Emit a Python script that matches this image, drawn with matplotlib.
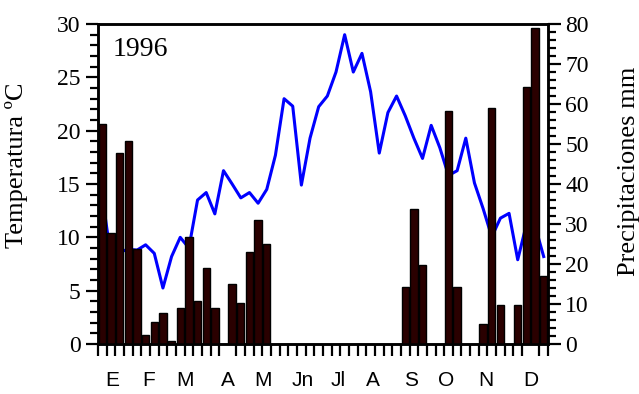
import matplotlib
matplotlib.use("Agg")
import matplotlib.pyplot as plt
import numpy as np
from matplotlib.ticker import MultipleLocator, FixedLocator

# weekly data for 1996
weeks = np.arange(52)
temperature = [13.8, 8.1, 8.6, 8.9, 8.8, 9.3, 8.5, 5.25, 8.2, 10.0,
               9.0, 13.5, 14.2, 12.2, 16.25, 15.0, 13.7, 14.2, 13.2, 14.5,
               17.7, 23.0, 22.3, 14.9, 19.3, 22.25, 23.25, 25.5, 29.0, 25.5,
               27.25, 23.65, 17.9, 21.7, 23.25, 21.4, 19.3, 17.4, 20.5, 18.4,
               15.8, 16.25, 19.3, 15.1, 12.7, 10.05, 11.8, 12.25, 7.9, 11.2,
               11.1, 8.2]
precipitation = [55, 27.7, 47.7, 50.8, 23.7, 2.25, 5.6, 7.7, 0.8, 8.9,
                 26.8, 10.8, 18.9, 8.9, 0, 14.9, 10.2, 22.9, 30.9, 24.9,
                 0, 0, 0, 0, 0, 0, 0, 0, 0, 0,
                 0, 0, 0, 0, 0, 14.2, 33.7, 19.75, 0, 0,
                 58.25, 14.2, 0, 0, 5.0, 58.9, 9.75, 0, 9.75, 64.3,
                 78.9, 17]
month_labels = ["E", "F", "M", "A", "M", "Jn", "Jl", "A", "S", "O", "N", "D"]
month_pos = [1.1, 5.4, 9.6, 14.5, 18.6, 23.2, 27.2, 31.3, 35.7, 39.7, 44.3, 49.5]

SERIF = "Liberation Serif"
SANS = "Liberation Sans"

fig = plt.figure(figsize=(6.39, 3.94), dpi=100)
ax = fig.add_axes([0.1534, 0.1269, 0.7042, 0.8121])
ax2 = ax.twinx()

ax.plot(weeks, temperature, color="#0000ff", linewidth=2.2, zorder=2)
ax2.bar(weeks, precipitation, width=0.85, color="#2a0000",
        edgecolor="black", linewidth=1.0)

ax.set_xlim(-0.5, 51.5)
ax.set_ylim(0, 30)
ax2.set_ylim(0, 80)

ax.yaxis.set_major_locator(MultipleLocator(5))
ax.yaxis.set_minor_locator(MultipleLocator(1))
ax2.yaxis.set_major_locator(MultipleLocator(10))
ax2.yaxis.set_minor_locator(MultipleLocator(2))

ax.xaxis.set_major_locator(FixedLocator(month_pos))
ax.set_xticklabels(month_labels, fontfamily=SANS, fontsize=15)
ax.xaxis.set_minor_locator(FixedLocator(np.arange(-0.5, 52, 1.0)))
ax.tick_params(axis="x", which="major", length=0, pad=19.5)
ax.tick_params(axis="x", which="minor", length=8.6, width=1.6, direction="out")

ax.tick_params(axis="y", which="major", length=9, width=1.6, labelsize=17)
ax.tick_params(axis="y", which="minor", length=5.5, width=1.6)
ax2.tick_params(axis="y", which="major", length=9, width=1.6, labelsize=17)
ax2.tick_params(axis="y", which="minor", length=5.5, width=1.6)
for lab in ax.get_yticklabels() + ax2.get_yticklabels():
    lab.set_fontfamily(SERIF)

for a in (ax, ax2):
    for sp in a.spines.values():
        sp.set_linewidth(1.8)

ax.set_ylabel("Temperatura ºC", fontfamily=SERIF, fontsize=19)
ax.yaxis.set_label_coords(-0.155, 0.56)
ax2.set_ylabel("Precipitaciones mm", fontfamily=SERIF, fontsize=19)
ax2.yaxis.set_label_coords(1.155, 0.54)

ax.text(0.033, 0.92, "1996", transform=ax.transAxes, fontfamily=SERIF,
        fontsize=20, ha="left", va="center")

fig.savefig("out.png", dpi=100)
